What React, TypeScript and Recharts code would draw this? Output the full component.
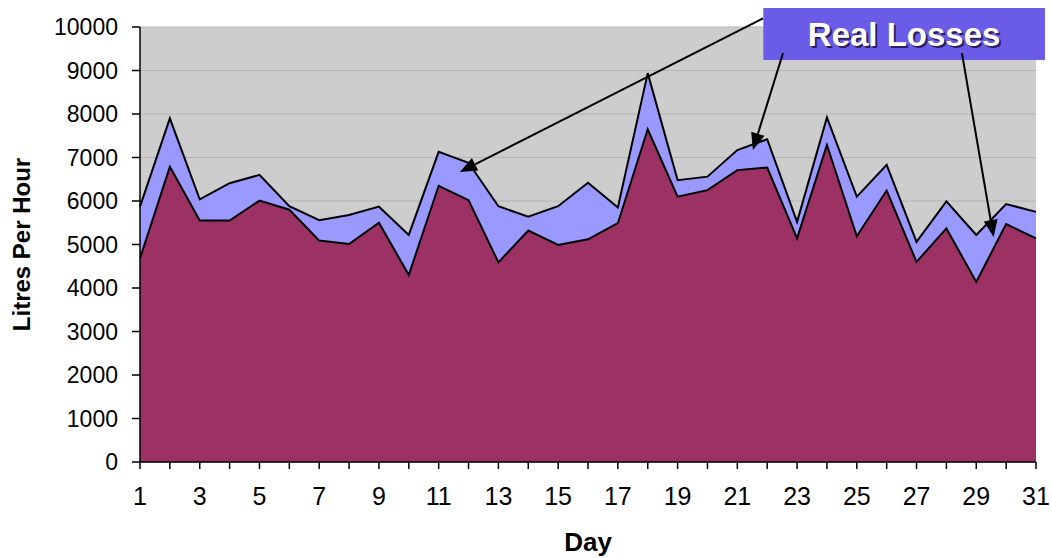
import {
  Area,
  AreaChart,
  CartesianGrid,
  ReferenceArea,
  ReferenceLine,
  XAxis,
  YAxis,
} from "recharts";

const days = [
  1, 2, 3, 4, 5, 6, 7, 8, 9, 10, 11, 12, 13, 14, 15, 16, 17, 18, 19, 20, 21,
  22, 23, 24, 25, 26, 27, 28, 29, 30, 31,
];
// total flow (top edge of the blue band)
const totalFlow = [
  5870, 7900, 6040, 6410, 6600, 5880, 5560, 5680, 5870, 5220, 7130, 6880,
  5880, 5640, 5880, 6420, 5850, 8940, 6480, 6560, 7170, 7420, 5520, 7920,
  6100, 6830, 5060, 5990, 5220, 5930, 5750,
];
// lower band (maroon)
const baseFlow = [
  4680, 6790, 5550, 5550, 6010, 5800, 5090, 5010, 5500, 4300, 6350, 6020,
  4590, 5320, 4990, 5120, 5490, 7650, 6100, 6250, 6710, 6770, 5140, 7290,
  5190, 6240, 4600, 5370, 4140, 5470, 5140,
];
const yTicks = [0, 1000, 2000, 3000, 4000, 5000, 6000, 7000, 8000, 9000, 10000];

const data = days.map((d, i) => ({
  day: d,
  total: totalFlow[i],
  base: baseFlow[i],
}));

const narrow = "'Liberation Sans Narrow', 'Arial Narrow', 'Liberation Sans', Arial, sans-serif";
const sans = "'Liberation Sans', Arial, sans-serif";

const Arrow = (props: any) => {
  const { x1, y1, x2, y2 } = props;
  const ang = Math.atan2(y2 - y1, x2 - x1);
  const len = 17;
  const w = 7;
  const bx = x2 - len * Math.cos(ang);
  const by = y2 - len * Math.sin(ang);
  const px = -Math.sin(ang) * w;
  const py = Math.cos(ang) * w;
  return (
    <g>
      <line x1={x1} y1={y1} x2={bx} y2={by} stroke="#000" strokeWidth={2} />
      <polygon
        points={`${x2},${y2} ${bx + px},${by + py} ${bx - px},${by - py}`}
        fill="#000"
      />
    </g>
  );
};

const BoxLabel = (props: any) => {
  const { viewBox } = props;
  const cx = viewBox.x + viewBox.width / 2;
  const cy = viewBox.y + viewBox.height / 2 + 12;
  return (
    <g fontFamily={sans} fontSize={33} fontWeight="bold" textAnchor="middle">
      <text x={cx + 2} y={cy + 2} fill="#2a2060">
        Real Losses
      </text>
      <text x={cx} y={cy} fill="#ffffff">
        Real Losses
      </text>
    </g>
  );
};

const YLabel = (props: any) => {
  const { viewBox } = props;
  const x = viewBox.x + 30;
  const y = viewBox.y + viewBox.height / 2;
  return (
    <text
      x={x}
      y={y}
      transform={`rotate(-90, ${x}, ${y})`}
      textAnchor="middle"
      fontFamily={sans}
      fontSize={24}
      fontWeight="bold"
      fill="#000"
    >
      Litres Per Hour
    </text>
  );
};

const XLabel = (props: any) => {
  const { viewBox } = props;
  return (
    <text
      x={viewBox.x + viewBox.width / 2}
      y={viewBox.y + 89}
      textAnchor="middle"
      fontFamily={narrow}
      fontSize={26}
      fontWeight="bold"
      fill="#000"
    >
      Day
    </text>
  );
};

export default function App() {
  return (
    <div
      style={{
        position: "absolute",
        left: 0,
        top: 0,
        width: 1052,
        height: 558,
        background: "#fff",
      }}
    >
      <AreaChart
        width={1052}
        height={558}
        data={data}
        margin={{ top: 27, right: 16, bottom: 0, left: 0 }}
      >
        <CartesianGrid
          vertical={false}
          stroke="#b4b4b4"
          fill="#cdcdcd"
          fillOpacity={1}
        />
        <XAxis
          dataKey="day"
          type="number"
          domain={[1, 31]}
          ticks={days}
          interval={0}
          tickFormatter={(v: number) => (v % 2 === 1 ? String(v) : "")}
          height={96}
          tickSize={7}
          tickMargin={18}
          stroke="#000"
          strokeWidth={1.5}
          tick={{ fill: "#000", fontSize: 25, fontFamily: narrow }}
          label={<XLabel />}
        />
        <YAxis
          domain={[0, 10000]}
          ticks={yTicks}
          interval={0}
          width={140}
          tickSize={8}
          tickMargin={14}
          stroke="#000"
          strokeWidth={1.5}
          tick={{ fill: "#000", fontSize: 23, fontFamily: sans }}
          label={<YLabel />}
        />
        <Area
          type="linear"
          dataKey="total"
          stroke="#000"
          strokeWidth={2}
          fill="#9999ff"
          fillOpacity={1}
          isAnimationActive={false}
        />
        <Area
          type="linear"
          dataKey="base"
          stroke="#000"
          strokeWidth={2}
          fill="#9c3163"
          fillOpacity={1}
          isAnimationActive={false}
        />
        <ReferenceLine
          segment={[
            { x: 21.86, y: 10200 },
            { x: 11.71, y: 6667 },
          ]}
          ifOverflow="visible"
          shape={<Arrow />}
        />
        <ReferenceLine
          segment={[
            { x: 22.53, y: 9400 },
            { x: 21.52, y: 7172 },
          ]}
          ifOverflow="visible"
          shape={<Arrow />}
        />
        <ReferenceLine
          segment={[
            { x: 28.52, y: 9400 },
            { x: 29.58, y: 5172 },
          ]}
          ifOverflow="visible"
          shape={<Arrow />}
        />
        <ReferenceArea
          x1={21.87}
          x2={31.3}
          y1={9241}
          y2={10437}
          ifOverflow="visible"
          fill="#6b5ce8"
          fillOpacity={1}
          stroke="none"
          label={<BoxLabel />}
        />
      </AreaChart>
    </div>
  );
}
